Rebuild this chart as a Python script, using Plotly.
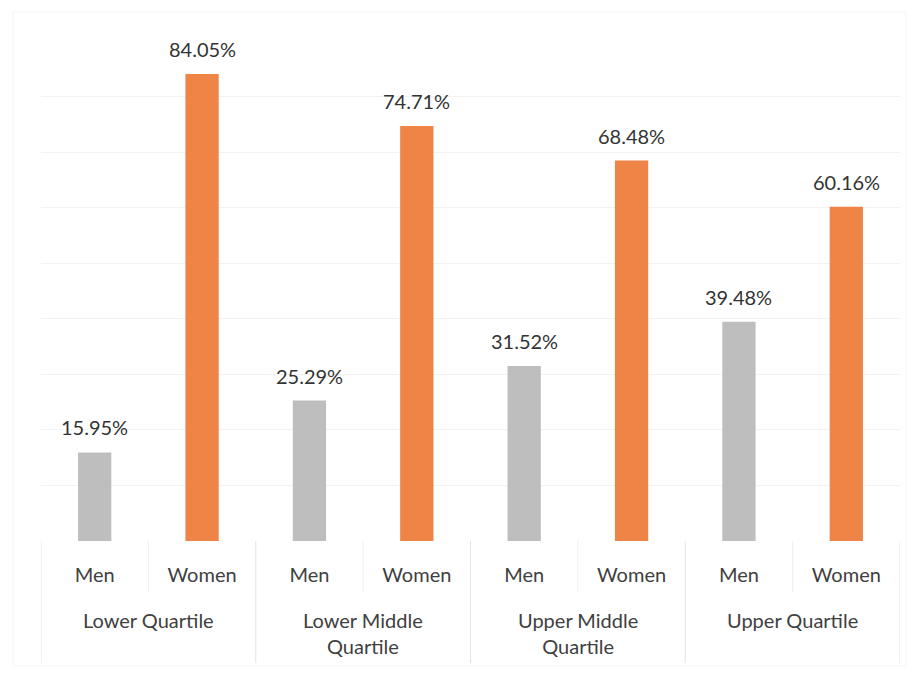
import plotly.graph_objects as go

groups = ["Lower Quartile", "Lower Middle<br>Quartile", "Upper Middle<br>Quartile", "Upper Quartile"]
genders = ["Men", "Women"]
men = [15.95, 25.29, 31.52, 39.48]
women = [84.05, 74.71, 68.48, 60.16]

grey = "#BEBEBE"
orange = "#EF8447"
font_family = "Lato, Calibri, sans-serif"

OFF = 8  # default page body margin
W, H = 917, 676
# desired page coordinates of the plot area
PL, PR, PT, PB = 41, 900, 41, 541
ML, MT = PL - OFF, PT - OFF
MR = W - (PR - OFF)
MB = H - (PB - OFF)
PW, PH = PR - PL, PB - PT


def py(page_y):
    return -(page_y - PB) / PH


labels, vals, cols = [], [], []
for m, w in zip(men, women):
    labels += genders
    vals += [m, w]
    cols += [grey, orange]
pos = list(range(len(vals)))

fig = go.Figure()
fig.add_trace(go.Bar(
    x=pos, y=vals, marker=dict(color=cols, line=dict(width=0)),
    width=0.31, showlegend=False, hoverinfo="skip",
))

for i, v in zip(pos, vals):
    fig.add_annotation(x=i, y=v, xref="x", yref="y", text=f"{v:.2f}%",
                       showarrow=False, yanchor="bottom", yshift=11,
                       font=dict(size=20, color="#333333", family=font_family))

# group labels
for k, g in enumerate(groups):
    fig.add_annotation(x=2 * k + 0.5, y=py(606), xref="x", yref="paper",
                       text=g, showarrow=False, yanchor="top", align="center",
                       font=dict(size=20, color="#404040", family=font_family))

# dividers
for k in range(5):
    xp = 2 * k - 0.5
    fig.add_shape(type="line", xref="x", yref="paper", x0=xp, x1=xp,
                  y0=0, y1=py(663), line=dict(color="#E4E4E4", width=1))
for k in range(4):
    xp = 2 * k + 0.5
    fig.add_shape(type="line", xref="x", yref="paper", x0=xp, x1=xp,
                  y0=0, y1=py(592), line=dict(color="#EFEFEF", width=1))

# faint chart border
fig.add_shape(type="rect", xref="paper", yref="paper",
              x0=(13 - PL) / PW, x1=(906 - PL) / PW,
              y0=py(666), y1=py(12),
              line=dict(color="#F3F3F3", width=1), layer="below")

fig.update_layout(
    width=W, height=H,
    margin=dict(l=ML, r=MR, t=MT, b=MB, autoexpand=False),
    paper_bgcolor="white", plot_bgcolor="white",
    font=dict(family=font_family, size=20, color="#404040"),
    xaxis=dict(range=[-0.5, 7.5], tickvals=pos, ticktext=labels, showline=False,
               ticks="outside", ticklen=16, tickcolor="rgba(0,0,0,0)", showgrid=False,
               zeroline=False, automargin=False, tickfont=dict(size=20, color="#404040")),
    yaxis=dict(range=[0, 90], dtick=10, showticklabels=False, showgrid=True,
               gridcolor="#F2F2F2", zeroline=False, showline=False, ticks="", automargin=False),
)

fig.write_html("out.html")
